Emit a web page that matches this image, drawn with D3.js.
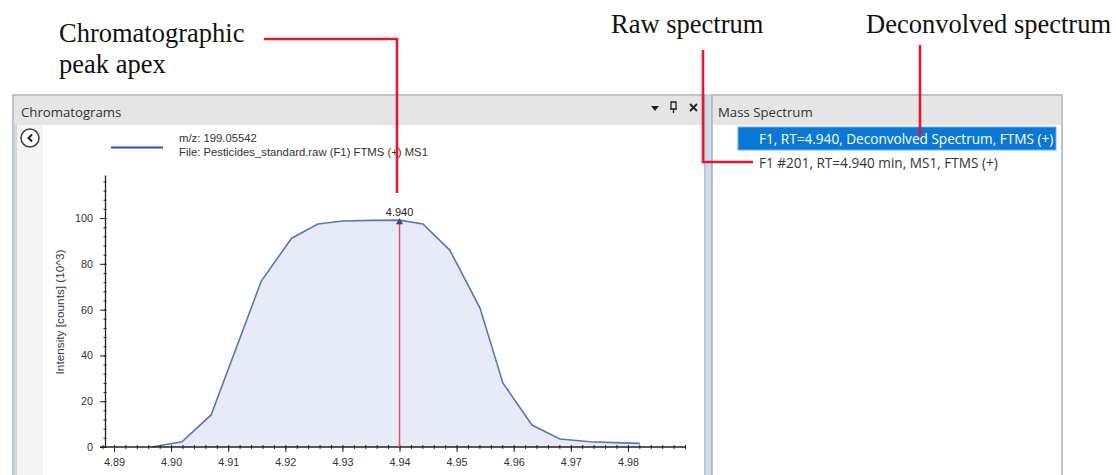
<!DOCTYPE html>
<html>
<head>
<meta charset="utf-8">
<script src="https://cdn.jsdelivr.net/npm/d3@7"></script>
<style>
  body { margin: 0; background: #fff; }
  svg { display: block; }
  .tick text { font-family: "Liberation Sans", Arial, sans-serif; fill: #333; }
  .ui { font-family: "Open Sans", "Noto Sans", sans-serif; }
  .note { font-family: "Liberation Serif", "Times New Roman", serif; font-size: 26.5px; fill: #111; }
</style>
</head>
<body>
<div class="chart"></div>
<script>
// chromatogram points
var retentionTimes = [4.8966, 4.9019, 4.9070, 4.9158, 4.9211, 4.9257, 4.9301, 4.9352, 4.9400,
  4.9441, 4.9488, 4.9541, 4.9581, 4.9632, 4.9681, 4.9734, 4.9777, 4.9821];
var intensities = [0, 2.3, 14, 72.5, 91.2, 97.4, 98.7, 99.0, 99.1,
  97.4, 86, 60.7, 28, 9.6, 3.5, 2.3, 1.9, 1.6];

var xTicks = [4.89, 4.90, 4.91, 4.92, 4.93, 4.94, 4.95, 4.96, 4.97, 4.98];
var yTicks = [0, 20, 40, 60, 80, 100];
var apexRt = 4.940;
var apexIntensity = 99.1;

var legendLines = ["m/z: 199.05542", "File: Pesticides_standard.raw (F1) FTMS (+) MS1"];
var spectrumItems = ["F1, RT=4.940, Deconvolved Spectrum, FTMS (+)", "F1 #201, RT=4.940 min, MS1, FTMS (+)"];

var svgWidth = 1116;
var svgHeight = 475;

var svg = d3.select(".chart")
  .append("svg")
  .attr("width", svgWidth)
  .attr("height", svgHeight);

// ---------- panels ----------
var ui = svg.append("g").attr("class", "ui");

// left panel
ui.append("rect").attr("x", 13).attr("y", 95).attr("width", 692).attr("height", 400)
  .attr("fill", "#fff").attr("stroke", "#a8b0ba").attr("stroke-width", 1.5);
ui.append("rect").attr("x", 14).attr("y", 96).attr("width", 690).attr("height", 29).attr("fill", "#e5e5e5");
ui.append("rect").attr("x", 14).attr("y", 125).attr("width", 3).attr("height", 360).attr("fill", "#cad7e6");
ui.append("rect").attr("x", 17).attr("y", 125).attr("width", 26).attr("height", 360).attr("fill", "#f4f4f4");
ui.append("text").attr("x", 21).attr("y", 117).attr("font-size", 13.2).attr("fill", "#333").text("Chromatograms");

// header icons
ui.append("path").attr("d", "M651,106 L659,106 L655,111 Z").attr("fill", "#222");
ui.append("path").attr("d", "M671,102 h5 v7 h-5 Z M670,109 h7 M673.5,109 v4")
  .attr("fill", "none").attr("stroke", "#222").attr("stroke-width", 1.3);
ui.append("path").attr("d", "M690,104 L697,111 M697,104 L690,111")
  .attr("stroke", "#222").attr("stroke-width", 1.8);

// splitter
ui.append("rect").attr("x", 705).attr("y", 95).attr("width", 7).attr("height", 400)
  .attr("fill", "#cfdced").attr("stroke", "#b8c0ca").attr("stroke-width", 1);

// right panel
ui.append("rect").attr("x", 712).attr("y", 95).attr("width", 350).attr("height", 400)
  .attr("fill", "#fff").attr("stroke", "#a8b0ba").attr("stroke-width", 1.5);
ui.append("rect").attr("x", 713).attr("y", 96).attr("width", 348).attr("height", 29).attr("fill", "#e5e5e5");
ui.append("text").attr("x", 718).attr("y", 117).attr("font-size", 13.2).attr("fill", "#333").text("Mass Spectrum");

ui.append("rect").attr("x", 738).attr("y", 127).attr("width", 318).attr("height", 23)
  .attr("fill", "#0a78d6").attr("stroke", "#6fb0ee").attr("stroke-width", 1);

ui.selectAll(".item")
  .data(spectrumItems)
  .enter()
  .append("text")
  .attr("class", "item")
  .attr("x", 759)
  .attr("y", (d, i) => 143.5 + i * 24)
  .attr("font-size", 13.6)
  .attr("fill", (d, i) => i === 0 ? "#fff" : "#333")
  .text(d => d);

// back button
ui.append("circle").attr("cx", 30).attr("cy", 138).attr("r", 9)
  .attr("fill", "#fff").attr("stroke", "#444").attr("stroke-width", 1.6);
ui.append("path").attr("d", "M32,134.5 L28.5,138 L32,141.5")
  .attr("fill", "none").attr("stroke", "#222").attr("stroke-width", 2);

// ---------- chromatogram ----------
var xScale = d3.scaleLinear()
  .domain([4.888, 4.99])
  .range([102.6, 685]);

var yScale = d3.scaleLinear()
  .domain([0, 118.8])
  .range([447, 175]);

var points = retentionTimes.map((t, i) => ({ t: t, v: intensities[i] }));

var area = d3.area()
  .x(d => xScale(d.t))
  .y0(yScale(0))
  .y1(d => yScale(d.v));

var line = d3.line()
  .x(d => xScale(d.t))
  .y(d => yScale(d.v));

var chartGroup = svg.append("g");

chartGroup.append("path")
  .datum(points)
  .attr("d", area)
  .attr("fill", "#e6ebf7");

chartGroup.append("path")
  .datum(points)
  .attr("d", line)
  .attr("fill", "none")
  .attr("stroke", "#5b76b5")
  .attr("stroke-width", 1.6);

// x axis
var minorX = d3.range(4.888, 4.9901, 0.002);
chartGroup.append("g")
  .attr("transform", `translate(0, ${yScale(0) - 2})`)
  .call(d3.axisBottom(xScale).tickValues(minorX).tickSize(4).tickFormat(""))
  .call(g => g.select(".domain").remove())
  .selectAll("line").attr("stroke", "#333");

var bottomAxis = d3.axisBottom(xScale)
  .tickValues(xTicks)
  .tickSize(5)
  .tickSizeOuter(0)
  .tickFormat(d3.format(".2f"));

chartGroup.append("g")
  .attr("transform", `translate(0, ${yScale(0)})`)
  .call(bottomAxis)
  .call(g => g.select(".domain").attr("d", `M100,0H${xScale(4.99)}`).attr("stroke", "#222").attr("stroke-width", 1.3))
  .call(g => g.selectAll(".tick text").attr("font-size", 10.8).attr("dy", "1.05em"));

// y axis
var minorY = d3.range(0, 118.8, 4);
chartGroup.append("g")
  .attr("transform", "translate(106.5, 0)")
  .call(d3.axisLeft(yScale).tickValues(minorY).tickSize(3).tickFormat(""))
  .call(g => g.select(".domain").remove())
  .selectAll("line").attr("stroke", "#333");

var leftAxis = d3.axisLeft(yScale)
  .tickValues(yTicks)
  .tickSize(5)
  .tickSizeOuter(0);

chartGroup.append("g")
  .attr("transform", "translate(105, 0)")
  .call(leftAxis)
  .call(g => g.select(".domain").attr("stroke", "#222").attr("stroke-width", 1.3))
  .call(g => g.selectAll(".tick text").attr("font-size", 10.8).attr("x", -12));

chartGroup.selectAll(".tick line").attr("stroke", "#222");

chartGroup.append("text")
  .attr("transform", "rotate(-90)")
  .attr("x", -312)
  .attr("y", 64)
  .attr("text-anchor", "middle")
  .attr("font-family", "Liberation Sans, Arial, sans-serif")
  .attr("font-size", 11.8)
  .attr("fill", "#333")
  .text("Intensity [counts] (10^3)");

// apex marker
chartGroup.append("line")
  .attr("x1", xScale(apexRt)).attr("x2", xScale(apexRt))
  .attr("y1", yScale(apexIntensity)).attr("y2", yScale(0))
  .attr("stroke", "#e4505e")
  .attr("stroke-width", 1.5);

chartGroup.append("path")
  .attr("d", d3.symbol(d3.symbolTriangle, 22)())
  .attr("transform", `translate(${xScale(apexRt)}, ${yScale(apexIntensity) + 2})`)
  .attr("fill", "#4b3f8f");

chartGroup.append("text")
  .attr("x", xScale(apexRt))
  .attr("y", yScale(apexIntensity) - 4)
  .attr("text-anchor", "middle")
  .attr("font-family", "Liberation Sans, Arial, sans-serif")
  .attr("font-size", 11)
  .attr("fill", "#222")
  .text(d3.format(".3f")(apexRt));

// legend
chartGroup.append("line")
  .attr("x1", 111).attr("x2", 163).attr("y1", 147.5).attr("y2", 147.5)
  .attr("stroke", "#2352a8").attr("stroke-width", 2);

chartGroup.selectAll(".legendText")
  .data(legendLines)
  .enter()
  .append("text")
  .attr("class", "legendText")
  .attr("x", 179)
  .attr("y", (d, i) => 142 + i * 13.5)
  .attr("font-family", "Liberation Sans, Arial, sans-serif")
  .attr("font-size", 11.3)
  .attr("fill", "#333")
  .text(d => d);

// ---------- callouts ----------
var notes = svg.append("g");

notes.append("text").attr("class", "note").attr("x", 59).attr("y", 42).text("Chromatographic");
notes.append("text").attr("class", "note").attr("x", 59).attr("y", 73).text("peak apex");
notes.append("text").attr("class", "note").attr("x", 611).attr("y", 33).text("Raw spectrum");
notes.append("text").attr("class", "note").attr("x", 866).attr("y", 33).text("Deconvolved spectrum");

var callouts = [
  "M264,39 H397 V193",
  "M703,50 V162 H753",
  "M920,45 V137"
];

notes.selectAll(".callout")
  .data(callouts)
  .enter()
  .append("path")
  .attr("class", "callout")
  .attr("d", d => d)
  .attr("fill", "none")
  .attr("stroke", "#ec1530")
  .attr("stroke-width", 2.6);
</script>
</body>
</html>
